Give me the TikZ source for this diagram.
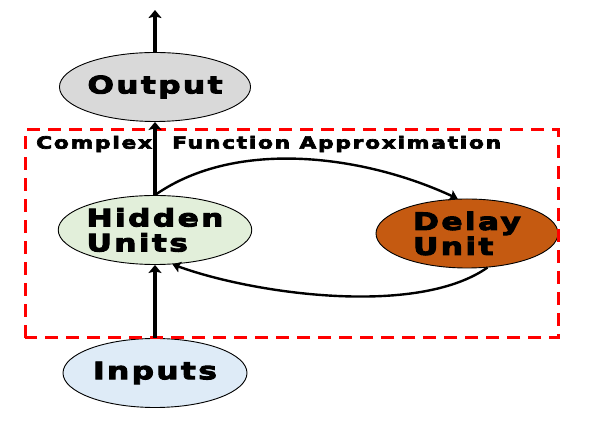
\documentclass[tikz,border=0pt]{standalone}
\usepackage{fontspec}
\setmainfont{DejaVu Sans}[FakeStretch=1.3,LetterSpace=10,BoldFeatures={FakeBold=4}]
\usetikzlibrary{shapes.geometric, arrows.meta}
\definecolor{outgray}{HTML}{D9D9D9}
\definecolor{hidgreen}{HTML}{E2EFDA}
\definecolor{inblue}{HTML}{DEEBF7}
\definecolor{delorange}{HTML}{C55A11}
\tikzstyle{unit} = [ellipse, minimum width=184pt, minimum height=69pt, inner sep=0pt, align=left, draw=black, line width=0.9pt, font=\fontsize{24}{25}\selectfont\bfseries]
\tikzstyle{arrow} = [line width=3.5pt,->,>={Stealth[length=8pt,width=13pt,inset=1.5pt]}]
\tikzstyle{feedback} = [line width=2.4pt,->,>={Stealth[length=8pt,width=11pt,inset=1.5pt]}]
\tikzstyle{region} = [draw=red, line width=3pt, dash pattern=on 13pt off 8pt]

\begin{document}
\begin{tikzpicture}[x=1pt, y=1pt, node distance=143pt]
          \useasboundingbox (0,0) rectangle (589,430);
          \node (inp) [unit, fill=inblue] at (155,57)  {Inputs}; %
          \node (hid) [unit, fill=hidgreen, above of=inp] {Hidden\\Units}; %
          \node (out) [unit, fill=outgray, above of=hid]  {Output}; %
          \node (del) [unit, fill=delorange, minimum width=182pt, right of=hid, node distance=312pt, yshift=-3.5pt] {Delay\\Unit}; %
          \coordinate (top) at (155,420); %

          %% Region
          \draw [region] (25,92) rectangle (558,300); %
          \node (cfa) [anchor=west, inner sep=0pt, font=\fontsize{16.8}{18}\selectfont\bfseries] at (36,286) {Complex\hspace{20pt}Function Approximation}; %

          %% Connections
          \draw [arrow] (inp) -- (hid); %
          \draw [arrow] (hid) -- (out); %
          \draw [arrow] (out) -- (top); %
          \draw [feedback] (hid.north) to[out=35, in=155, looseness=0.85] (del.105); %
          \draw [feedback] (del.-59) to[out=-145, in=-20, looseness=0.7] (hid.-63); %
        \end{tikzpicture}
\end{document}
